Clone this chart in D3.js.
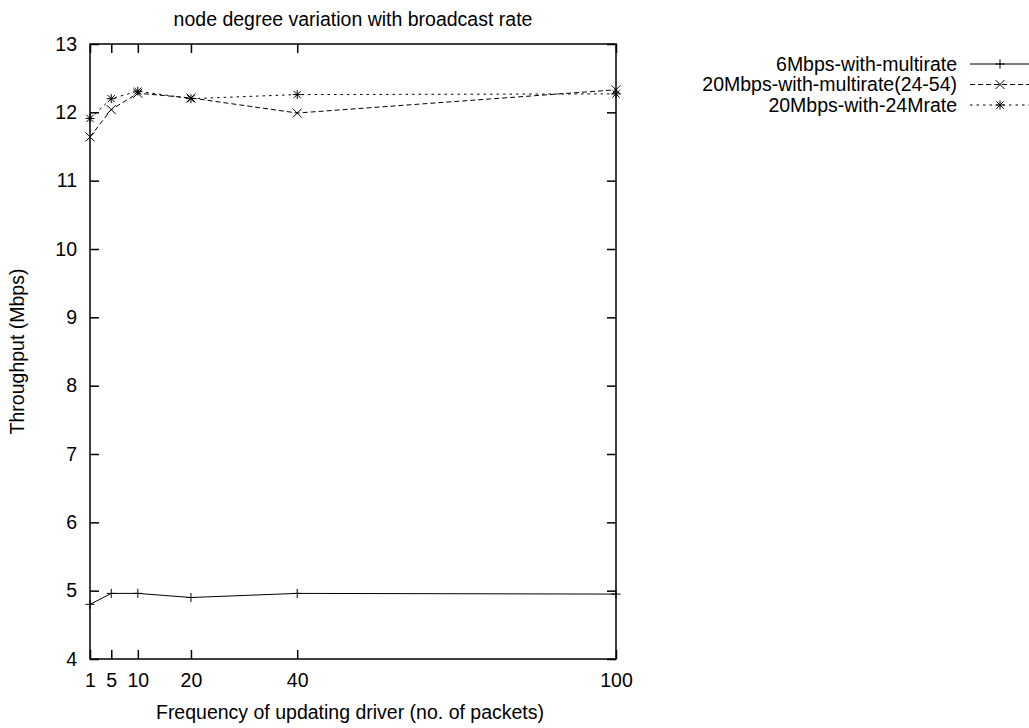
<!DOCTYPE html>
<html>
<head>
<meta charset="utf-8">
<script src="https://cdn.jsdelivr.net/npm/d3@7"></script>
<style>
  body { margin: 0; background: #fff; }
  text { font-family: "Liberation Sans", Arial, sans-serif; }
</style>
</head>
<body>
<svg id="chart" width="1029" height="728"></svg>
<script>
// packets between driver updates
var xValues = [1, 5, 10, 20, 40, 100];
var xTicks = [1, 5, 10, 20, 40, 100];
var yTicks = [4, 5, 6, 7, 8, 9, 10, 11, 12, 13];

var seriesNames = ["6Mbps-with-multirate", "20Mbps-with-multirate(24-54)", "20Mbps-with-24Mrate"];
var sixMbpsMultirate = [4.80, 4.96, 4.96, 4.90, 4.96, 4.95];
var twentyMbpsMultirate = [11.64, 12.04, 12.28, 12.21, 11.99, 12.33];
var twentyMbps24M = [11.91, 12.20, 12.31, 12.20, 12.26, 12.27];

var svg = d3.select("#chart");
var fontSize = 19.5;

var margin = {left: 90, right: 616, top: 44, bottom: 659};

var x = d3.scaleLinear().domain([1, 100]).range([margin.left, margin.right]);
var y = d3.scaleLinear().domain([4, 13]).range([margin.bottom, margin.top]);

// axes, ticks pointing inward on all four sides
var g = svg.append("g");
g.append("g")
    .attr("transform", "translate(0," + margin.bottom + ")")
    .call(d3.axisBottom(x).tickValues(xTicks).tickSizeInner(-9).tickSizeOuter(0).tickPadding(14));
g.append("g")
    .attr("transform", "translate(0," + margin.top + ")")
    .call(d3.axisTop(x).tickValues(xTicks).tickSizeInner(-9).tickSizeOuter(0).tickFormat(""));
g.append("g")
    .attr("transform", "translate(" + margin.left + ",0)")
    .call(d3.axisLeft(y).tickValues(yTicks).tickSizeInner(-9).tickSizeOuter(0).tickPadding(13));
g.append("g")
    .attr("transform", "translate(" + margin.right + ",0)")
    .call(d3.axisRight(y).tickValues(yTicks).tickSizeInner(-9).tickSizeOuter(0).tickFormat(""));

g.selectAll(".domain").remove();
g.selectAll(".tick line").attr("stroke", "#000").attr("stroke-width", 1.5);
g.selectAll(".tick text")
    .attr("font-size", fontSize)
    .attr("font-family", "Liberation Sans, Arial, sans-serif")
    .attr("fill", "#000");

svg.append("rect")
    .attr("x", margin.left)
    .attr("y", margin.top)
    .attr("width", margin.right - margin.left)
    .attr("height", margin.bottom - margin.top)
    .attr("fill", "none")
    .attr("stroke", "#000")
    .attr("stroke-width", 1.5);

// marker shapes
var plusPath = function(s) { return "M" + (-s) + ",0H" + s + "M0," + (-s) + "V" + s; };
var crossPath = function(s) { return "M" + (-s) + "," + (-s) + "L" + s + "," + s + "M" + (-s) + "," + s + "L" + s + "," + (-s); };
var starPath = function(s) { return plusPath(s) + crossPath(s * 0.8); };

var series = [
    {name: seriesNames[0], values: sixMbpsMultirate, dash: null, marker: plusPath},
    {name: seriesNames[1], values: twentyMbpsMultirate, dash: "5,3", marker: crossPath},
    {name: seriesNames[2], values: twentyMbps24M, dash: "2.5,4", marker: starPath}
];

var line = d3.line()
    .x(function(d) { return x(d.x); })
    .y(function(d) { return y(d.y); });

series.forEach(function(s, i) {
    var pts = xValues.map(function(v, j) { return {x: v, y: s.values[j]}; });
    var sg = svg.append("g");
    sg.append("path")
        .datum(pts)
        .attr("d", line)
        .attr("fill", "none")
        .attr("stroke", "#000")
        .attr("stroke-width", 1)
        .attr("stroke-dasharray", s.dash);
    sg.selectAll("path.mk")
        .data(pts)
        .enter()
        .append("path")
        .attr("class", "mk")
        .attr("d", s.marker(4.5))
        .attr("transform", function(d) { return "translate(" + x(d.x) + "," + y(d.y) + ")"; })
        .attr("fill", "none")
        .attr("stroke", "#000")
        .attr("stroke-width", 1);

    // legend entry
    var ly = 64 + i * 20.5;
    var lg = svg.append("g");
    lg.append("text")
        .attr("x", 957)
        .attr("y", ly)
        .attr("dy", "0.35em")
        .attr("text-anchor", "end")
        .attr("font-size", fontSize)
        .text(s.name);
    lg.append("line")
        .attr("x1", 970).attr("x2", 1029)
        .attr("y1", ly).attr("y2", ly)
        .attr("stroke", "#000")
        .attr("stroke-width", 1)
        .attr("stroke-dasharray", s.dash);
    lg.append("path")
        .attr("d", s.marker(4.5))
        .attr("transform", "translate(1000," + ly + ")")
        .attr("fill", "none")
        .attr("stroke", "#000");
});

// title and axis labels
svg.append("text")
    .attr("x", (margin.left + margin.right) / 2)
    .attr("y", 26)
    .attr("text-anchor", "middle")
    .attr("font-size", fontSize)
    .text("node degree variation with broadcast rate");

svg.append("text")
    .attr("x", 350)
    .attr("y", 719)
    .attr("text-anchor", "middle")
    .attr("font-size", fontSize)
    .text("Frequency of updating driver (no. of packets)");

svg.append("text")
    .attr("transform", "translate(24," + ((margin.top + margin.bottom) / 2) + ") rotate(-90)")
    .attr("text-anchor", "middle")
    .attr("font-size", fontSize)
    .text("Throughput (Mbps)");
</script>
</body>
</html>
